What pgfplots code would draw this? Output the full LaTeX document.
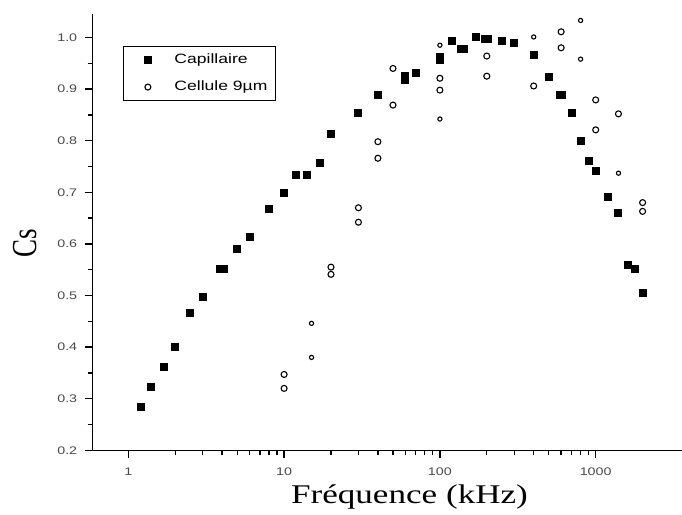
\documentclass[border=0pt]{standalone}
\usepackage{pgfplots}
\pgfplotsset{compat=1.18}
\usepackage{fontspec}
\setmainfont{Liberation Serif}
\newfontfamily\arial{Liberation Sans}
\definecolor{ticklab}{HTML}{4A4A4A}
\newcommand{\sx}[1]{\scalebox{1.3}[1]{#1}}
\begin{document}
\begin{tikzpicture}
\begin{axis}[
  scale only axis,
  width=589.3bp, height=436.3bp,
  xmode=log,
  xmin=0.591, xmax=3580,
  ymin=0.2, ymax=1.0455,
  axis x line*=bottom, axis y line*=left,
  axis line style={-, line width=1.4bp},
  every tick/.style={black, line width=1.3bp},
  tick align=outside,
  major tick length=8bp, minor tick length=5bp,
  /pgf/number format/assume math mode=true,
  xtick={1,10,100,1000},
  xticklabels={\sx{\arial 1},\sx{\arial 10},\sx{\arial 100},\sx{\arial 1000}},
  ytick={0.2,0.3,...,1.0},
  minor y tick num=1,
  yticklabel={\sx{\arial\pgfmathprintnumber[fixed,fixed zerofill,precision=1,assume math mode=true]{\tick}}},
  tick label style={font=\arial\fontsize{11bp}{13bp}\selectfont, text=ticklab},
  y tick label style={anchor=east, xshift=-4bp},
  x tick label style={anchor=north, yshift=-6bp},
  xlabel={\scalebox{1.3}[1]{Fréquence (kHz)}},
  xlabel style={font=\fontsize{27bp}{30bp}\selectfont, at={(axis description cs:0.5376,0)}, anchor=center, yshift=-47bp},
  ylabel={\scalebox{1}[1.3]{Cs}},
  ylabel style={font=\fontsize{27bp}{30bp}\selectfont, at={(axis description cs:-0.1149,0.475)}, anchor=center},
  clip=false,
  legend cell align=left,
  legend image code/.code={\path (0bp,0bp) (36bp,0bp); \draw[#1] plot coordinates {(18bp,0bp)};},
  legend style={at={(axis description cs:0.0509,0.9267)}, anchor=north west,
    draw=black, line width=1.2bp, inner xsep=6bp, inner ysep=5bp,
    row sep=10bp, column sep=6bp,
    font=\arial\fontsize{13.5bp}{16bp}\selectfont,
    nodes={inner sep=2bp, text height=10bp, text depth=3bp}},
]
\addplot[only marks, mark=square*, mark size=3.5bp, black, mark options={line width=0pt}] coordinates {
(1.2,0.283) (1.4,0.322) (1.7,0.361) (2,0.400) (2.5,0.466) (3,0.497)
(3.9,0.551) (4.1,0.551) (5,0.590) (6,0.613) (8,0.668) (10,0.699)
(12,0.734) (14,0.734) (17,0.757) (20,0.812) (30,0.854) (40,0.889)
(60,0.918) (60,0.926) (70,0.932) (100,0.957) (100,0.963) (120,0.994)
(136,0.978) (142,0.978) (170,1.001) (195,0.998) (205,0.998) (250,0.993)
(300,0.989) (400,0.967) (500,0.923) (590,0.889) (610,0.889) (700,0.854)
(800,0.800) (900,0.760) (1000,0.741) (1200,0.691) (1400,0.660)
(1600,0.559) (1800,0.551) (2000,0.504)
};
\addlegendentry{\sx{Capillaire}}
\addplot[only marks, mark=o, mark size=3bp, black, mark options={line width=1.1bp}] coordinates {
(10,0.347) (10,0.320) (20,0.555) (20,0.541) (30,0.670) (30,0.642)
(40,0.798) (40,0.766) (50,0.940) (50,0.869) (100,0.921) (100,0.898)
(200,0.964) (200,0.925) (400,0.906) (600,1.011) (600,0.980)
(1000,0.879) (1000,0.821) (1400,0.852) (2000,0.680) (2000,0.663)
};
\addlegendentry{\sx{Cellule 9µm}}
\addplot[only marks, mark=o, mark size=2.1bp, black, mark options={line width=1.1bp}, forget plot] coordinates {
(15,0.446) (15,0.380) (100,0.985) (100,0.842) (400,1.001)
(800,1.033) (800,0.958) (1400,0.737)
};
\end{axis}
\pgfresetboundingbox
\path[use as bounding box] (-92.7bp,-64.7bp) rectangle (589.3bp,450.3bp);
\end{tikzpicture}
\end{document}
